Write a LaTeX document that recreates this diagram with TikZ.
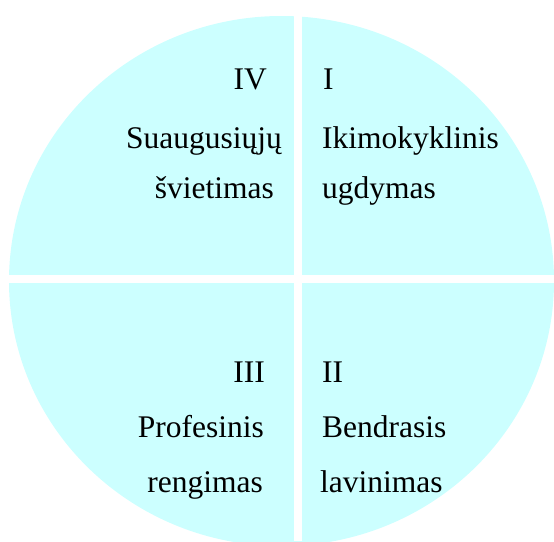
\documentclass[tikz,border=0pt]{standalone}
\usepackage{fontspec}
\setmainfont{Liberation Serif}
\definecolor{quadcyan}{HTML}{CCFFFF}
\begin{document}
\begin{tikzpicture}[x=1pt,y=-1pt,
  lbl/.style={inner sep=0pt,font=\fontsize{31.5}{36}\selectfont},
  lft/.style={lbl,anchor=base east},
  rgt/.style={lbl,anchor=base west}]
\useasboundingbox (0,0) rectangle (554,541);
\begin{scope}
\clip (0,0) rectangle (554,541);
\fill[quadcyan] (281.5,281) ellipse [x radius=272.5, y radius=265];
\fill[white] (294,0) rectangle (302,541);
\fill[white] (0,275) rectangle (554,283);
\end{scope}
% quadrant IV
\node[lft] (q4a) at (267,89) {IV};
\node[lft] (q4b) at (282,148) {Suaugusiųjų};
\node[lft] (q4c) at (274,198) {švietimas};
% quadrant I
\node[rgt] (q1a) at (323,89) {I};
\node[rgt] (q1b) at (322,148) {Ikimokyklinis};
\node[rgt] (q1c) at (322,198) {ugdymas};
% quadrant III
\node[lft] (q3a) at (265,382) {III};
\node[lft] (q3b) at (264,437) {Profesinis};
\node[lft] (q3c) at (263,492) {rengimas};
% quadrant II
\node[rgt] (q2a) at (322,382) {II};
\node[rgt] (q2b) at (322,437) {Bendrasis};
\node[rgt] (q2c) at (320,492) {lavinimas};
\end{tikzpicture}
\end{document}
